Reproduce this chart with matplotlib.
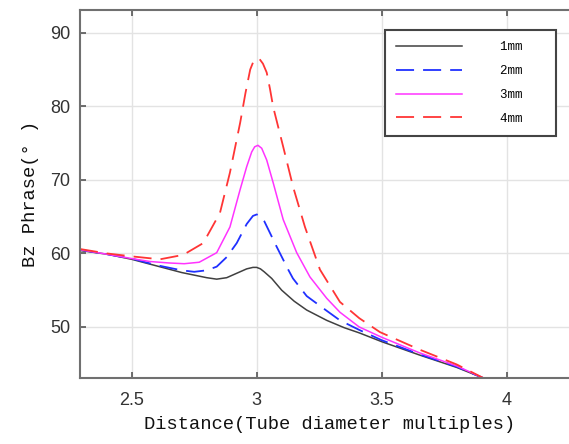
import matplotlib
matplotlib.use("Agg")
import matplotlib.pyplot as plt

# ---- data ----
x_1mm = [2.293, 2.4, 2.5, 2.6, 2.7, 2.8, 2.84, 2.88, 2.92, 2.96, 2.985, 3.0, 3.015, 3.03, 3.06, 3.1, 3.15, 3.2, 3.28, 3.35, 3.41, 3.5, 3.65, 3.8, 3.91]
y_1mm = [60.4, 59.9, 59.2, 58.3, 57.4, 56.7, 56.5, 56.7, 57.3, 57.9, 58.1, 58.1, 57.9, 57.5, 56.6, 55.0, 53.5, 52.3, 50.9, 49.9, 49.2, 48.0, 46.2, 44.5, 43.0]

x_2mm = [2.293, 2.4, 2.5, 2.6, 2.7, 2.75, 2.8, 2.84, 2.88, 2.92, 2.96, 2.985, 3.0, 3.015, 3.03, 3.05, 3.08, 3.126, 3.145, 3.2, 3.28, 3.333, 3.41, 3.5, 3.65, 3.8, 3.91]
y_2mm = [60.5, 59.9, 59.3, 58.4, 57.7, 57.5, 57.7, 58.2, 59.5, 61.4, 64.0, 65.1, 65.3, 65.1, 64.4, 63.0, 60.9, 57.8, 56.6, 54.2, 52.2, 50.9, 49.6, 48.2, 46.3, 44.6, 43.0]

x_3mm = [2.293, 2.4, 2.5, 2.573, 2.65, 2.71, 2.77, 2.84, 2.893, 2.933, 2.96, 2.98, 2.992, 3.005, 3.02, 3.04, 3.066, 3.106, 3.16, 3.213, 3.28, 3.333, 3.41, 3.5, 3.65, 3.8, 3.91]
y_3mm = [60.5, 59.9, 59.3, 58.9, 58.7, 58.6, 58.8, 60.1, 63.6, 68.6, 71.8, 73.8, 74.5, 74.7, 74.3, 72.7, 69.6, 64.6, 60.1, 56.8, 53.9, 52.0, 50.0, 48.6, 46.5, 44.7, 43.0]

x_4mm = [2.293, 2.4, 2.5, 2.613, 2.706, 2.786, 2.853, 2.893, 2.934, 2.955, 2.974, 2.988, 3.0, 3.012, 3.025, 3.04, 3.053, 3.066, 3.106, 3.146, 3.193, 3.253, 3.333, 3.41, 3.493, 3.653, 3.8, 3.91]
y_4mm = [60.6, 60.0, 59.6, 59.2, 59.8, 61.4, 65.5, 71.0, 77.8, 81.8, 85.0, 86.2, 86.5, 86.4, 85.8, 84.6, 82.4, 79.9, 74.5, 69.0, 63.6, 57.8, 53.4, 51.2, 49.3, 46.9, 44.9, 43.0]

labels = ["1mm", "2mm", "3mm", "4mm"]
xticks = [2.5, 3, 3.5, 4]
xtick_labels = ["2.5", "3", "3.5", "4"]
yticks = [50, 60, 70, 80, 90]

# ---- figure ----
W, H = 569, 444
fig = plt.figure(figsize=(W / 100, H / 100), dpi=100)
ax = fig.add_axes([80 / W, 1 - 378 / H, 500 / W, 368 / H])

ax.plot(x_1mm, y_1mm, color="#404040", lw=1.1, label=labels[0] + "   ")
ax.plot(x_2mm, y_2mm, color="#2030ff", lw=1.3, dashes=(10, 5), label=labels[1] + "   ")
ax.plot(x_3mm, y_3mm, color="#ff33ff", lw=1.1, label=labels[2] + "   ")
ax.plot(x_4mm, y_4mm, color="#ff3535", lw=1.3, dashes=(10, 5), label=labels[3] + "   ")

ax.set_xlim(2.2932, 4.2932)
ax.set_ylim(43.06, 93.1)
ax.set_xticks(xticks)
ax.set_xticklabels(xtick_labels)
ax.set_yticks(yticks)

ax.grid(True, color="#e3e3e3", lw=1.0)
ax.set_axisbelow(True)
for s in ["left", "bottom", "top"]:
    ax.spines[s].set_color("#707070")
    ax.spines[s].set_linewidth(1.5)
ax.spines["right"].set_visible(False)
ax.tick_params(axis="x", pad=10)
ax.tick_params(axis="y", pad=7)
ax.tick_params(axis="both", direction="in", length=4, width=1.2, color="#555555",
               labelsize=13, labelcolor="#333333", top=True)
for t in ax.get_xticklabels() + ax.get_yticklabels():
    t.set_fontfamily("Liberation Sans")

mono = "Liberation Mono"
ax.set_xlabel("Distance(Tube diameter multiples)", family=mono, fontsize=13.5, color="#111111", labelpad=5)
ax.set_ylabel("Bz Phrase(° )", family=mono, fontsize=13.5, color="#111111", labelpad=8)

leg = ax.legend(loc="upper right", bbox_to_anchor=(556 / W, 1 - 30 / H), bbox_transform=fig.transFigure,
                borderaxespad=0, fancybox=False, framealpha=1, edgecolor="#444444",
                prop={"family": mono, "size": 9}, handlelength=5.3, handletextpad=3.0,
                labelspacing=0.95, borderpad=0.9)
leg.get_frame().set_linewidth(1.5)

fig.savefig("out.png", dpi=100)
